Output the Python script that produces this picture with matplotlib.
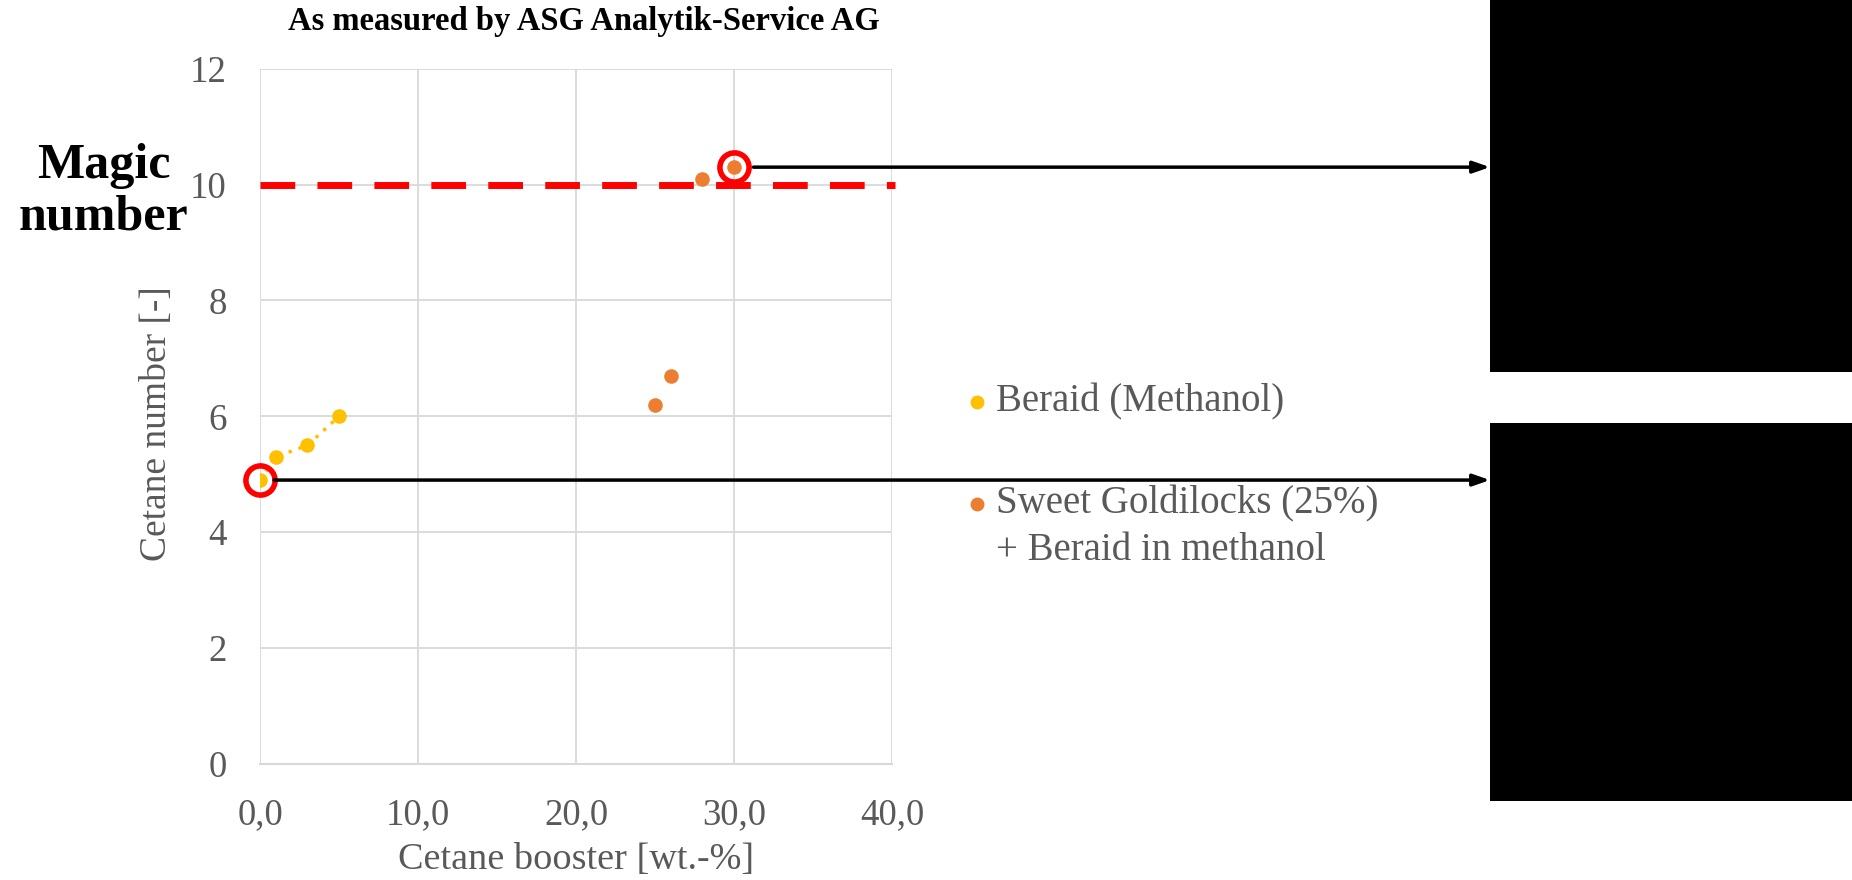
import matplotlib.pyplot as plt
from matplotlib.lines import Line2D
from matplotlib.patches import Rectangle
from matplotlib.transforms import blended_transform_factory

# data
beraid_x = [0, 1, 3, 5]
beraid_y = [4.9, 5.3, 5.5, 6.0]
goldi_x = [25, 26, 28, 30]
goldi_y = [6.2, 6.7, 10.1, 10.3]
magic_number = 10
highlight_x = [0, 30]
highlight_y = [4.9, 10.3]
x_ticks = [0, 10, 20, 30, 40]
y_ticks = [0, 2, 4, 6, 8, 10, 12]

YELLOW = '#FFC000'
ORANGE = '#ED7D31'
GREY = '#595959'
GRID = '#D9D9D9'
FONT = 'Liberation Serif'

plt.rcParams['font.family'] = FONT

fig = plt.figure(figsize=(18.52, 8.8), dpi=100, facecolor='white')
ax = fig.add_axes([0.1404, 0.1318, 0.3412, 0.7902])

ax.plot(beraid_x, beraid_y, linestyle=(0, (1, 2)), color=YELLOW, linewidth=2.5,
        marker='o', markersize=10.5, markeredgewidth=0, zorder=3)
ax.plot(goldi_x, goldi_y, linestyle='none', color=ORANGE,
        marker='o', markersize=10.5, markeredgewidth=0, zorder=3)

# magic number line
ax.axhline(magic_number, xmin=0, xmax=1.005, color='#FF0000', linewidth=5,
           dashes=(5, 3.2), clip_on=False, zorder=2)

# red circles around the highlighted points
ax.plot(highlight_x, highlight_y, linestyle='none', marker='o', markersize=21,
        markerfacecolor='none', markeredgecolor='#FF0000', markeredgewidth=4,
        clip_on=False, zorder=4)

ax.set_xlim(0, 40)
ax.set_ylim(0, 12)
ax.set_xticks(x_ticks)
ax.set_yticks(y_ticks)
ax.set_xticklabels([f'{v:.1f}'.replace('.', ',') for v in x_ticks])
ax.set_yticklabels([str(v) for v in y_ticks])
ax.tick_params(length=0, labelsize=26.5, colors=GREY, pad=24)
ax.grid(True, color=GRID, linewidth=1.3)
ax.set_axisbelow(True)
for side in ['top', 'right', 'left']:
    ax.spines[side].set_visible(False)
ax.spines['bottom'].set_color(GRID)
ax.spines['bottom'].set_linewidth(1.5)

ax.set_xlabel('Cetane booster [wt.-%]', fontsize=27.5, color=GREY)
ax.set_ylabel('Cetane number [-]', fontsize=27, color=GREY)
ax.xaxis.set_label_coords(0.5, -0.138)
ax.xaxis.label.set_va('center')
ax.yaxis.set_label_coords(-0.164, 0.49)
ax.yaxis.label.set_va('center')

fig.text(0.315, 0.976, 'As measured by ASG Analytik-Service AG', ha='center', va='center',
         fontsize=23.5, fontweight='bold', color='black')
fig.text(0.056, 0.782, 'Magic\nnumber', ha='center', va='center', fontsize=36,
         fontweight='bold', color='black', linespacing=1.15)

# legend drawn by hand so the marker sits on the first line
for ym, col in [(0.543, YELLOW), (0.427, ORANGE)]:
    fig.add_artist(Line2D([0.5275], [ym], marker='o', markersize=10, color=col,
                          markeredgewidth=0, transform=fig.transFigure))
fig.text(0.538, 0.543, 'Beraid (Methanol)', fontsize=28, color=GREY, va='center')
fig.text(0.538, 0.427, 'Sweet Goldilocks (25%)', fontsize=28, color=GREY, va='center')
fig.text(0.538, 0.374, '+ Beraid in methanol', fontsize=28, color=GREY, va='center')

# black boxes on the right
fig.add_artist(Rectangle((0.8045, 0.577), 0.1955, 0.423, facecolor='black',
                         edgecolor='none', transform=fig.transFigure))
fig.add_artist(Rectangle((0.8045, 0.0898), 0.1955, 0.4292, facecolor='black',
                         edgecolor='none', transform=fig.transFigure))

# arrows from the circled points to the boxes
trans = blended_transform_factory(fig.transFigure, ax.transData)
for hx, hy, shrink in zip(highlight_x, highlight_y, [10, 14]):
    ax.annotate('', xy=(0.8045, hy), xycoords=trans, xytext=(hx, hy), textcoords='data',
                arrowprops=dict(arrowstyle='-|>,head_length=1.0,head_width=0.35',
                                color='black', lw=2.5, shrinkA=shrink, shrinkB=0),
                annotation_clip=False, zorder=5)

fig.savefig('out.png', dpi=100, facecolor='white')
